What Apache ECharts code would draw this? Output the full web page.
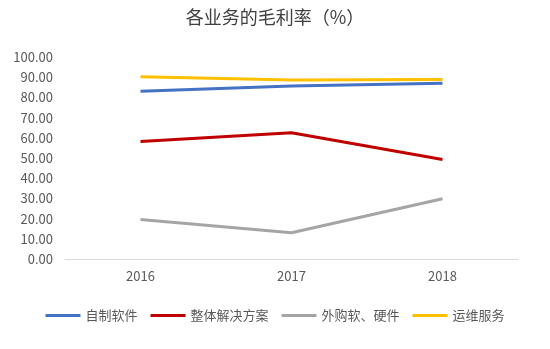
<!DOCTYPE html>
<html><head><meta charset="utf-8">
<script src="https://cdn.jsdelivr.net/npm/echarts@6/dist/echarts.min.js"></script>
<style>html,body{margin:0;padding:0;background:#fff}#c{width:550px;height:349px}</style>
</head><body><div id="c"></div>
<script>
const categories = ['2016', '2017', '2018'];
const seriesNames = ['自制软件', '整体解决方案', '外购软、硬件', '运维服务'];
const selfSoftware = [83.0, 85.7, 87.0];
const solutions = [58.2, 62.5, 49.3];
const purchased = [19.5, 13.0, 29.8];
const maintenance = [90.2, 88.6, 88.8];
const colors = ['#4472C4', '#C00000', '#A5A5A5', '#FFC000'];
const values = [selfSoftware, solutions, purchased, maintenance];

const chart = echarts.init(document.getElementById('c'), null, {renderer: 'canvas'});
chart.setOption({
  animation: false,
  title: {
    text: '各业务的毛利率（%）', left: 'center', top: 3,
    textStyle: {fontFamily: 'Noto Sans CJK SC', fontSize: 18, fontWeight: 'normal', color: '#404040'}
  },
  legend: {
    bottom: 22, left: 'center', itemWidth: 35, itemHeight: 3, itemGap: 13,
    icon: 'rect',
    textStyle: {fontFamily: 'Noto Sans CJK SC', fontSize: 13, color: '#595959'},
    data: seriesNames
  },
  grid: {left: 65, right: 32, top: 57, bottom: 90},
  xAxis: {
    type: 'category', data: categories, boundaryGap: true,
    axisLine: {lineStyle: {color: '#D9D9D9', width: 1}},
    axisTick: {show: false},
    axisLabel: {color: '#595959', fontSize: 13, margin: 11, fontFamily: 'Noto Sans CJK SC'}
  },
  yAxis: {
    type: 'value', min: 0, max: 100, interval: 10,
    splitLine: {show: false},
    axisLine: {show: false}, axisTick: {show: false},
    axisLabel: {color: '#595959', fontSize: 13, margin: 12, fontFamily: 'Noto Sans CJK SC',
      formatter: v => v.toFixed(2)}
  },
  series: seriesNames.map((n, i) => ({
    name: n, type: 'line', data: values[i], symbol: 'none',
    lineStyle: {color: colors[i], width: 3}, itemStyle: {color: colors[i]}
  }))
});
</script></body></html>
